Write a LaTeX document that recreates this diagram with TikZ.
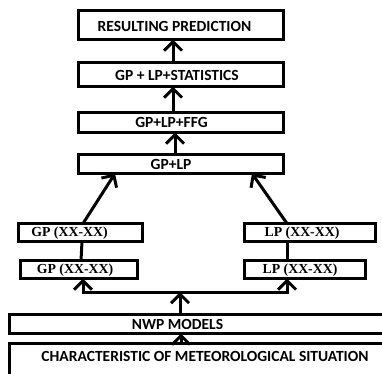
\documentclass[tikz,border=0pt]{standalone}
\usepackage{fontspec}
\setmainfont{Carlito}
\newfontfamily\serifb{Liberation Serif}
\usetikzlibrary{arrows.meta}
\tikzset{
  box/.style={draw=black, line width=2.9pt, fill=white, inner sep=0pt, outer sep=0pt},
  stxt/.style={font=\fontsize{15.5}{16}\selectfont\bfseries, inner sep=0pt},
  rtxt/.style={font=\serifb\fontsize{13.8}{15}\selectfont\bfseries, inner sep=0pt},
  conn/.style={line width=3pt, draw=black},
  arr/.style={conn, -{Straight Barb[length=9pt,width=18pt]}},
}
\begin{document}
\begin{tikzpicture}[x=1pt,y=-1pt]
\useasboundingbox (0,0) rectangle (382,373);
% boxes
\node[box, minimum width=205pt, minimum height=29pt] (rp) at (181,25) {};
\node[stxt] (rpt) at (174.5,26) {RESULTING PREDICTION};
\node[box, minimum width=205pt, minimum height=24pt] (st) at (181,74.5) {};
\node[stxt] (stt) at (177,75) {GP + LP+STATISTICS};
\node[box, minimum width=205pt, minimum height=20pt] (ffg) at (181,122.5) {};
\node[stxt] (ffgt) at (171.5,122) {GP+LP+FFG};
\node[box, minimum width=205pt, minimum height=19pt] (gplp) at (181,164) {};
\node[stxt] (gplpt) at (171,164) {GP+LP};
\node[box, minimum width=124pt, minimum height=18pt] (gpu) at (80.5,232.5) {};
\node[rtxt] (gput) at (69.5,233) {GP (XX-XX)};
\node[box, minimum width=117pt, minimum height=18pt] (gpl) at (79,269.5) {};
\node[rtxt] (gplt) at (75,270) {GP (XX-XX)};
\node[box, minimum width=131pt, minimum height=18pt] (lpu) at (310,232.5) {};
\node[rtxt] (lput) at (302,233) {LP (XX-XX)};
\node[box, minimum width=121pt, minimum height=18pt] (lpl) at (305,269.5) {};
\node[rtxt] (lplt) at (300,270) {LP (XX-XX)};
\node[box, minimum width=380pt, minimum height=19pt] (nwp) at (199.5,324) {};
\node[stxt] (nwpt) at (177.5,324.5) {NWP MODELS};
\node[box, minimum width=380pt, minimum height=47pt] (chr) at (199.5,367) {};
\node[stxt] (chrt) at (205,356) {CHARACTERISTIC OF METEOROLOGICAL SITUATION};
% junction
\coordinate (jl) at (83,292);
\coordinate (jm) at (180,292);
\coordinate (jr) at (287,292);
% connectors
\draw[arr] ([xshift=-8pt]st.north) -- ([xshift=-8pt]rp.south);
\draw[arr] ([xshift=-8pt]ffg.north) -- ([xshift=-8pt]st.south);
\draw[arr] ([xshift=-6pt]gplp.north) -- ([xshift=-6pt]ffg.south);
\draw[arr] ([xshift=2.5pt]gpu.north) -- ([xshift=-66pt]gplp.south);
\draw[arr] ([xshift=-23pt]lpu.north) -- ([xshift=71pt]gplp.south);
\draw[conn] ([xshift=2pt]gpl.north) -- ([xshift=1.5pt]gpu.south);
\draw[conn] ([xshift=-18pt]lpl.north) -- ([xshift=-23pt]lpu.south);
\draw[arr, shorten <=-1.5pt] (jm) -| ([xshift=4pt]gpl.south);
\draw[arr, shorten <=-1.5pt] (jm) -| ([xshift=-18pt]lpl.south);
\draw[arr] ([xshift=-19.5pt]nwp.north) -- (jm);
\draw[arr] ([xshift=-18.5pt]chr.north) -- ([xshift=-18.5pt]nwp.south);
\end{tikzpicture}
\end{document}
